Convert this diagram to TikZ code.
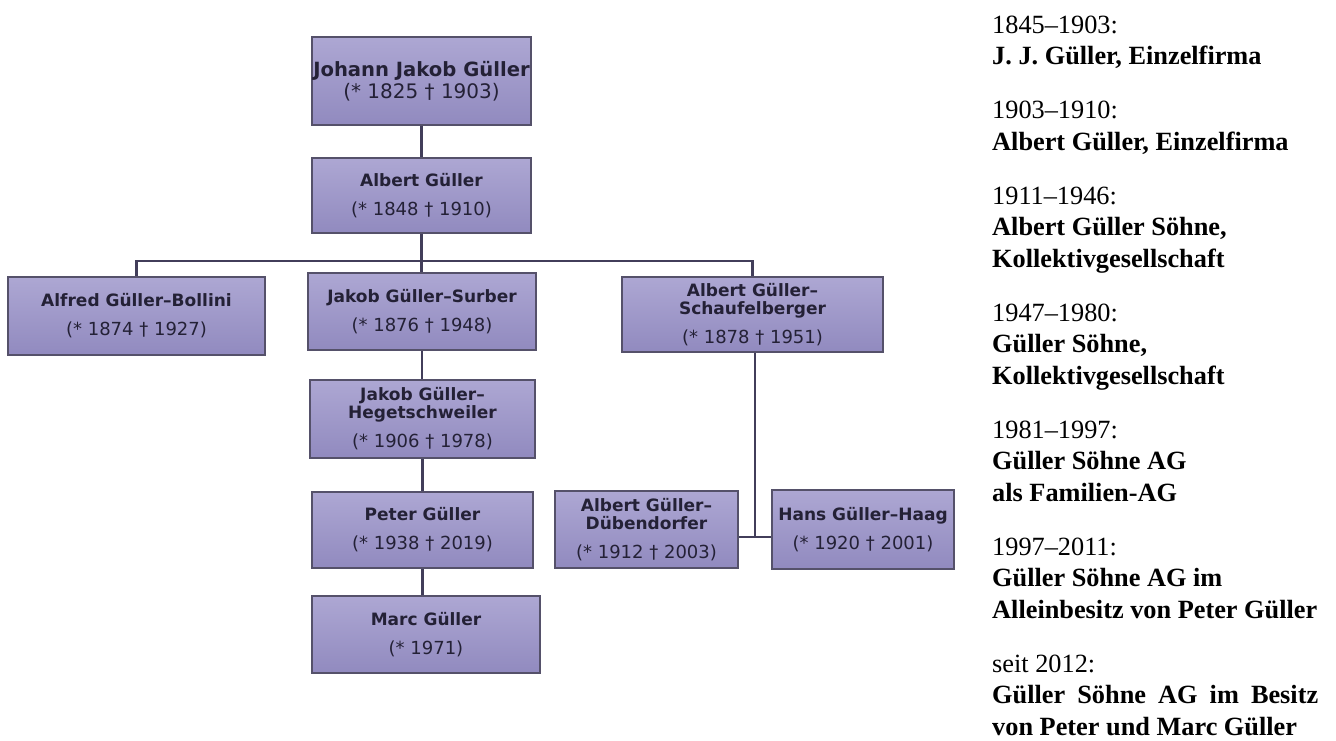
\documentclass[tikz,border=0pt]{standalone}
\usepackage{fontspec}
\setmainfont{Liberation Serif}
\newfontfamily\boxfont{DejaVu Sans}
\definecolor{boxtop}{HTML}{ADA7D3}
\definecolor{boxbot}{HTML}{918ABF}
\definecolor{boxline}{HTML}{55516A}
\definecolor{conn}{HTML}{423E5A}
\definecolor{boxtext}{HTML}{242136}
\tikzset{
  fam/.style={rectangle, draw=boxline, line width=1.3pt, top color=boxtop, bottom color=boxbot,
    inner sep=0pt, align=center, text=boxtext, font=\boxfont\fontsize{17}{18}\selectfont},
  conline/.style={draw=conn, line width=2.3pt},
  yr/.style={anchor=base west, inner sep=0pt, font=\fontsize{26.3}{31.5}\selectfont},
  firm/.style={anchor=base west, inner sep=0pt, font=\fontsize{26.3}{31.5}\selectfont\bfseries},
}
\newcommand{\dates}[1]{{\fontsize{18}{18}\selectfont #1}}
\begin{document}
\begin{tikzpicture}[x=1pt,y=-1pt]
\useasboundingbox[fill=white] (0,0) rectangle (1336,740);
% connectors (drawn first, boxes on top)
\coordinate (bus) at (0,261);
\coordinate (junc) at (755,537);
% family boxes
\node[fam, minimum width=219pt, minimum height=88pt, font=\boxfont\fontsize{19.6}{21}\selectfont] (A) at (421.5,81)
  {\textbf{Johann Jakob Güller}\\[1pt]{\fontsize{20}{21}\selectfont(* 1825 † 1903)}};
\node[fam, minimum width=219pt, minimum height=75pt] (B) at (421.5,195.5)
  {\textbf{Albert Güller}\\[11pt]\dates{(* 1848 † 1910)}};
\node[fam, minimum width=257pt, minimum height=78pt] (C) at (136.5,316)
  {\textbf{Alfred Güller–Bollini}\\[11pt]\dates{(* 1874 † 1927)}};
\node[fam, minimum width=228pt, minimum height=77pt] (D) at (422,311.5)
  {\textbf{Jakob Güller–Surber}\\[11pt]\dates{(* 1876 † 1948)}};
\node[fam, minimum width=261pt, minimum height=75pt] (E) at (752.5,314.5)
  {\textbf{Albert Güller–}\\\textbf{Schaufelberger}\\[11pt]\dates{(* 1878 † 1951)}};
\node[fam, minimum width=225pt, minimum height=78pt] (F) at (422.5,419)
  {\textbf{Jakob Güller–}\\\textbf{Hegetschweiler}\\[11pt]\dates{(* 1906 † 1978)}};
\node[fam, minimum width=221pt, minimum height=76pt] (G) at (422.5,530)
  {\textbf{Peter Güller}\\[11pt]\dates{(* 1938 † 2019)}};
\node[fam, minimum width=228pt, minimum height=77pt] (H) at (426,634.5)
  {\textbf{Marc Güller}\\[11pt]\dates{(* 1971)}};
\node[fam, minimum width=183pt, minimum height=77pt] (I) at (646.5,529.5)
  {\textbf{Albert Güller–}\\\textbf{Dübendorfer}\\[11pt]\dates{(* 1912 † 2003)}};
\node[fam, minimum width=182pt, minimum height=79pt] (J) at (863,529.5)
  {\textbf{Hans Güller–Haag}\\[11pt]\dates{(* 1920 † 2001)}};
% connectors
\draw[conline] (A.south) -- (A.south |- B.north);
\draw[conline] (B.south) -- (B.south |- D.north);
\draw[conline] (C.north) -- (C.north |- bus) -- (E.north |- bus) -- (E.north);
\draw[conline] (D.south) -- (D.south |- F.north);
\draw[conline] (F.south) -- (F.south |- G.north);
\draw[conline] (G.south) -- (G.south |- H.north);
\draw[conline] (E.south -| junc) -- (junc);
\draw[conline] (I.east |- junc) -- (J.west |- junc);
% company history
\node[yr]   (t1)  at (992,33)    {1845–1903:};
\node[firm] (t2)  at (992,64.5)  {J. J. Güller, Einzelfirma};
\node[yr]   (t3)  at (992,118.5) {1903–1910:};
\node[firm] (t4)  at (992,150)   {Albert Güller, Einzelfirma};
\node[yr]   (t5)  at (992,204)   {1911–1946:};
\node[firm] (t6)  at (992,235.5) {Albert Güller Söhne,};
\node[firm] (t7)  at (992,267)   {Kollektivgesellschaft};
\node[yr]   (t8)  at (992,321)   {1947–1980:};
\node[firm] (t9)  at (992,352.5) {Güller Söhne,};
\node[firm] (t10) at (992,384)   {Kollektivgesellschaft};
\node[yr]   (t11) at (992,438)   {1981–1997:};
\node[firm] (t12) at (992,469.5) {Güller Söhne AG};
\node[firm] (t13) at (992,501)   {als Familien-AG};
\node[yr]   (t14) at (992,555)   {1997–2011:};
\node[firm] (t15) at (992,586.5) {Güller Söhne AG im};
\node[firm] (t16) at (992,618)   {Alleinbesitz von Peter Güller};
\node[yr]   (t17) at (992,672)   {seit 2012:};
\node[firm] (t18) at (992,703.5) {\makebox[326pt][s]{Güller Söhne AG im Besitz}};
\node[firm] (t19) at (992,735)   {von Peter und Marc Güller};
\end{tikzpicture}
\end{document}
